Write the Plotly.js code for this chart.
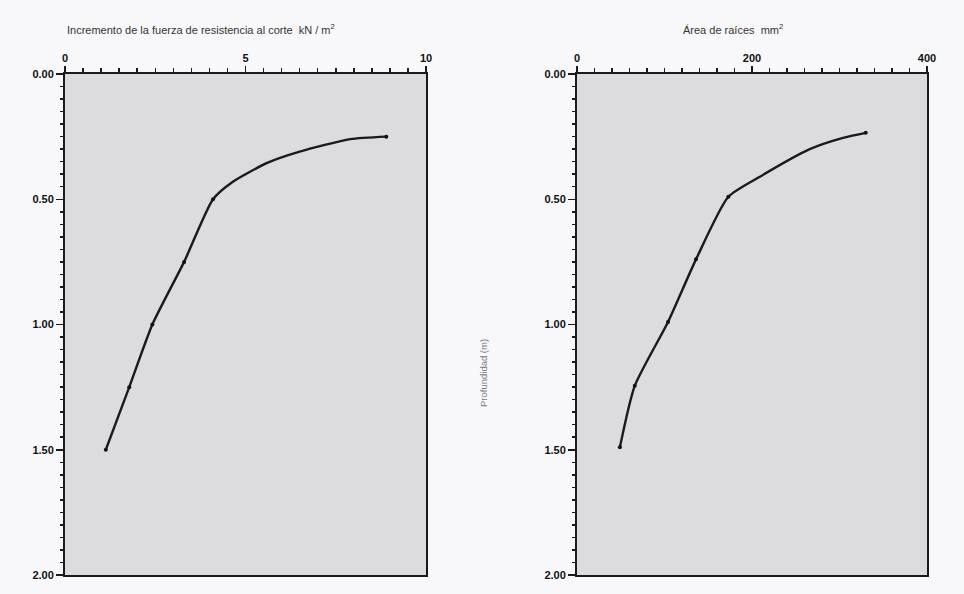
<!DOCTYPE html>
<html>
<head>
<meta charset="utf-8">
<script src="https://cdn.plot.ly/plotly-3.0.1.min.js"></script>
<style>html,body{margin:0;padding:0;background:#f8f8fa;}#chart{width:964px;height:594px;}</style>
</head>
<body>
<div id="chart"></div>
<script>
// Left panel: increase of shear strength (kN/m2) vs depth (m)
const depthLeft = [0.25, 0.5, 0.75, 1.0, 1.25, 1.5];
const shearLeft = [8.9, 4.1, 3.3, 2.42, 1.78, 1.13];
// points (no markers)
const curveDepthLeft = [0.25, 0.26, 0.31, 0.355, 0.43, 0.5, 0.75, 1.0, 1.25, 1.5];
const curveShearLeft = [8.9, 7.9, 6.5, 5.6, 4.65, 4.1, 3.3, 2.42, 1.78, 1.13];

// Right panel: root area (mm2) vs depth (m)
const depthRight = [0.235, 0.49, 0.74, 0.99, 1.245, 1.49];
const areaRight = [330, 173, 136, 104, 66, 49];
const curveDepthRight = [0.235, 0.255, 0.30, 0.41, 0.49, 0.74, 0.99, 1.245, 1.49];
const curveAreaRight = [330, 304, 266, 209, 173, 136, 104, 66, 49];

const yTickVals = [0, 0.5, 1.0, 1.5, 2.0];
const yTickText = ["0.00", "0.50", "1.00", "1.50", "2.00"];
const xTickLeft = [0, 5, 10];
const xTickRight = [0, 200, 400];

const titleLeft = "Incremento de la fuerza de resistencia al corte  kN / m<sup>2</sup>";
const titleRight = "Área de raíces  mm<sup>2</sup>";
const titleY = "Profundidad (m)";

const lineStyle = {color: "#1a1a1a", width: 2.4, shape: "spline", smoothing: 0.6};
const markStyle = {color: "#111", size: 4};

const traces = [
  {x: curveShearLeft, y: curveDepthLeft, mode: "lines", line: lineStyle, xaxis: "x", yaxis: "y", hoverinfo: "skip"},
  {x: shearLeft, y: depthLeft, mode: "markers", marker: markStyle, xaxis: "x", yaxis: "y"},
  {x: curveAreaRight, y: curveDepthRight, mode: "lines", line: lineStyle, xaxis: "x2", yaxis: "y2", hoverinfo: "skip"},
  {x: areaRight, y: depthRight, mode: "markers", marker: markStyle, xaxis: "x2", yaxis: "y2"}
];

const tickFont = {family: "Liberation Sans, Arial, sans-serif", size: 11, color: "#111", weight: "bold"};
const axCommon = {
  showline: true, linecolor: "#1a1a1a", linewidth: 2, mirror: true,
  ticks: "outside", ticklen: 6, tickwidth: 1.5, tickcolor: "#1a1a1a",
  showgrid: false, zeroline: false, tickfont: tickFont, fixedrange: true
};

function xAx(range, vals, minorDt, domain, anchor) {
  return Object.assign({}, axCommon, {
    side: "top", range: range, tickvals: vals, ticktext: vals.map(String),
    domain: domain, anchor: anchor,
    minor: {dtick: minorDt, ticks: "outside", ticklen: 4, tickwidth: 1.5, tickcolor: "#1a1a1a", showgrid: false}
  });
}
function yAx(domain, anchor) {
  return Object.assign({}, axCommon, {
    range: [2, 0], tickvals: yTickVals, ticktext: yTickText,
    domain: domain, anchor: anchor, ticklen: 7,
    minor: {dtick: 0.05, ticks: "outside", ticklen: 3, tickwidth: 1.5, tickcolor: "#1a1a1a", showgrid: false}
  });
}

const yDom = [19/594, 520/594];
const titleFont = {family: "Liberation Sans, Arial, sans-serif", size: 11, color: "#333"};
const layout = {
  width: 964, height: 594,
  margin: {l: 0, r: 0, t: 0, b: 0},
  paper_bgcolor: "#f8f8fa",
  plot_bgcolor: "#dbdbe0",
  showlegend: false,
  xaxis: xAx([0, 10], xTickLeft, 0.5, [65/964, 426/964], "y"),
  yaxis: yAx(yDom, "x"),
  xaxis2: xAx([0, 400], xTickRight, 20, [577/964, 927/964], "y2"),
  yaxis2: yAx(yDom, "x2"),
  annotations: [
    {text: titleLeft, xref: "paper", yref: "paper", x: 65/964, y: 1 - 29/594, xanchor: "left", yanchor: "middle",
     showarrow: false, font: titleFont},
    {text: titleRight, xref: "paper", yref: "paper", x: 733/964, y: 1 - 29/594, xanchor: "center", yanchor: "middle",
     showarrow: false, font: titleFont},
    {text: titleY, xref: "paper", yref: "paper", x: 483/964, y: 1 - 373/594, textangle: -90, xanchor: "center", yanchor: "middle",
     showarrow: false, font: {family: "Liberation Sans, Arial, sans-serif", size: 9.5, color: "#7a7a7a"}}
  ]
};

Plotly.newPlot("chart", traces, layout, {displayModeBar: false, staticPlot: true});
</script>
</body>
</html>
